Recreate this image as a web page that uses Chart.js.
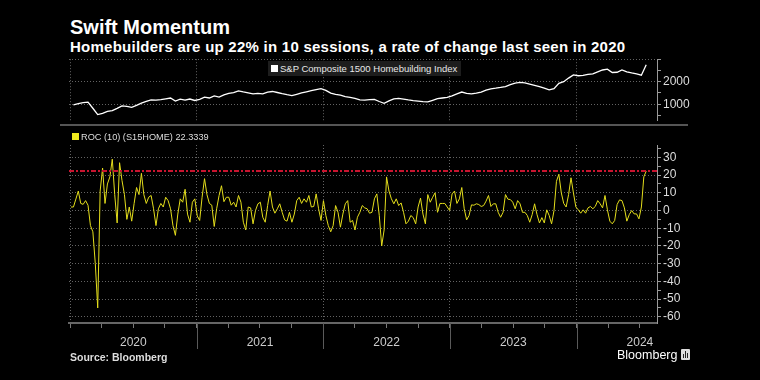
<!DOCTYPE html>
<html>
<head>
<meta charset="utf-8">
<script src="https://cdn.jsdelivr.net/npm/chart.js@4.4.1/dist/chart.umd.min.js"></script>
<style>
html,body{margin:0;padding:0;background:#000;}
#wrap{position:relative;width:760px;height:380px;background:#000;overflow:hidden;font-family:"Liberation Sans",Arial,sans-serif;color:#fff;}
#title{position:absolute;left:70px;top:16px;font-size:20px;font-weight:bold;line-height:22px;white-space:nowrap;}
#subtitle{position:absolute;left:70px;top:39px;font-size:15px;letter-spacing:0.25px;font-weight:bold;line-height:16px;white-space:nowrap;}
#cTop{position:absolute;left:0;top:50px;}
#cBot{position:absolute;left:0;top:128px;}
#sep{position:absolute;left:60px;top:124px;width:628px;height:2px;background:#555;}
#leg1{position:absolute;left:268px;top:61px;height:15px;padding:0 4px 0 3px;background:#1d1d1d;font-size:9.5px;line-height:15px;color:#e8e8e8;white-space:nowrap;}
#leg2{position:absolute;left:72px;top:130px;font-size:9.2px;line-height:14px;color:#ddd;white-space:nowrap;}
.sq{display:inline-block;width:7px;height:7px;margin-right:2px;vertical-align:0px;}
#source{position:absolute;left:70px;top:350px;font-size:10.5px;font-weight:bold;color:#ddd;line-height:14px;white-space:nowrap;}
#logo{position:absolute;left:617px;top:347px;font-size:12.5px;color:#fff;line-height:16px;white-space:nowrap;}
#logo .ic{display:inline-block;position:relative;width:9px;height:11px;background:#ddd;border-radius:1px;margin-left:4px;vertical-align:-1px;}
#logo .ic i{position:absolute;bottom:2px;width:1px;background:#222;}
</style>
</head>
<body>
<div id="wrap">
  <div id="title">Swift Momentum</div>
  <div id="subtitle">Homebuilders are up 22% in 10 sessions, a rate of change last seen in 2020</div>
  <canvas id="cTop" width="760" height="80"></canvas>
  <div id="sep"></div>
  <div id="leg1"><span class="sq" style="background:#fff"></span>S&amp;P Composite 1500 Homebuilding Index</div>
  <canvas id="cBot" width="760" height="240"></canvas>
  <div id="leg2"><span class="sq" style="background:#f0ea1e"></span><span id="leg2txt"></span></div>
  <div id="source">Source: Bloomberg</div>
  <div id="logo">Bloomberg<span class="ic"><i style="left:2px;height:4px"></i><i style="left:4px;height:7px"></i><i style="left:6px;height:5px"></i></span></div>
</div>
<script>
// ---- data ----
const yearLabels = ['2020', '2021', '2022', '2023', '2024'];
const rocStart = 2020.008;          // first weekly observation (decimal year)
const rocStepDays = 7;              // weekly observations
const rocValues = [
  2, 2, 6.5, 11, 4, 3.5, 5.6, 3, -8.5, -12,
  -30, -55, 11, 24, 4, 15, 19, 29, 9, -7,
  27, 17, 9, -5, 2, -6, 4, 13, 9, 21,
  9, 4, 7.5, 8.5, 1, -8.5, 1, 4, 2, 7.5,
  5.6, 1, -8.5, -14, -2, 6.6, 4.7, 12, -2, -6.6,
  4.7, 6.6, -3, -5.6, 7.5, 18, 9, 4, 3, -9,
  1, 8.5, 14, 5, 7.5, 7.5, 3, 4.7, 2, 8.5,
  4.7, -6.6, -11, 2, 1.5, -7.5, 0, 3.8, 4.7, -3.8,
  -6.6, 2.8, 11, 2, -1.5, 1, 3.8, -1, -5.3, -6,
  -1, -6.6, -2, 5.6, 7.5, 4, 6.6, 4.7, 8.5, 2,
  2.3, 9.4, 1, -5.6, 5.6, -2.8, -8.5, -12, -8.5, 2.8,
  -1, -9.4, -2, 3.8, 5.6, -6.6, -5.6, -11, -3.8, -1,
  2.8, 1.5, 1, -1.5, -1, 6.6, 9.4, -2.8, -20, -11,
  19, 11, 6.6, 3.8, 6.6, 2.8, 4.3, -1, -7.5, -6,
  -2.8, -4, -7.5, 2, 7, -2, -7.5, 9, 4.7, 7.5,
  10, -1, 4, 4, 4, 2, 0, 9.4, 11, 4,
  6.6, 13, 1, -5.3, -2.8, 3.2, 3, 3.8, 3.4, 2.3,
  2.8, 5.3, 8.5, 2.3, 3.8, 3.8, -1, -3.8, -1, 9,
  6.4, 6.2, 4.7, 1, 5.6, 3.8, -1, -1, -2.8, -6.6,
  -2.3, 3.8, -2.3, -7, -4, -7, 0.4, -2.8, -7.5, 0,
  16.5, 20.5, 10, 4, 2, 9, 18.5, 10, 2, 0.4,
  -1.5, 0.4, -1.5, 1.5, 2.3, 1, 2.3, 5.6, 3.8, 1.5,
  8.5, 0.4, -6, -7.5, -5.6, 3.4, 6, 5.6, 1.5, -6,
  -2.3, 0, -1.9, -1.9, -4.7, 2, 19, 22.3339
];
const rocLast = 22.3339;
const idxStart = 2020.027;          // first fortnightly observation (decimal year)
const idxStepDays = 14;
const idxValues = [
  975, 1030, 1070, 1090, 820, 540, 590, 677, 719, 816,
  925, 900, 860, 945, 1050, 1125, 1195, 1180, 1200, 1240,
  1275, 1140, 1225, 1180, 1230, 1165, 1215, 1310, 1275, 1370,
  1316, 1414, 1483, 1511, 1590, 1545, 1505, 1455, 1480, 1460,
  1540, 1565, 1520, 1470, 1425, 1385, 1440, 1500, 1550, 1600,
  1650, 1690, 1615, 1490, 1440, 1400, 1340, 1305, 1260, 1190,
  1185, 1205, 1215, 1120, 1040, 1150, 1240, 1255, 1225, 1190,
  1160, 1140, 1110, 1100, 1170, 1245, 1275, 1305, 1370, 1460,
  1540, 1485, 1460, 1490, 1540, 1622, 1680, 1710, 1745, 1785,
  1870, 1940, 1970, 1950, 1895, 1840, 1780, 1710, 1640, 1690,
  1930, 2000, 2160, 2300, 2265, 2280, 2325, 2350, 2440, 2520,
  2560, 2410, 2420, 2525, 2440, 2390, 2350, 2290, 2750
];
const idxTicks = [500, 1000, 1500, 2000, 2500, 3000];
const rocTicks = [-60, -55, -50, -45, -40, -35, -30, -25, -20, -15, -10, -5, 0, 5, 10, 15, 20, 25, 30, 35];

// ---- axis ranges ----
const xMin = 2019.992, xMax = 2024.635;
const yTopMin = 262, yTopMax = 3000;
const yBotMin = -63.5, yBotMax = 37;

const DAY = 1 / 365.25;
const rocPoints = rocValues.map((v, i) => ({x: rocStart + i * rocStepDays * DAY, y: v}));
const idxPoints = idxValues.map((v, i) => ({x: idxStart + i * idxStepDays * DAY, y: v}));
const years = yearLabels.map(Number);
const quarterTicks = [];
years.forEach(y => [0, 0.25, 0.5, 0.75].forEach(q => { const v = y + q; if (v >= xMin && v <= xMax) quarterTicks.push(v); }));

document.getElementById('leg2txt').textContent = 'ROC (10) (S15HOME) ' + rocLast.toFixed(4);

const FONT = '"Liberation Sans", Arial, sans-serif';
const GRID = '#636363';
const AXIS = '#9a9a9a';

// top panel
new Chart(document.getElementById('cTop'), {
  type: 'line',
  data: {datasets: [{data: idxPoints, borderColor: '#ffffff', borderWidth: 1.3, pointRadius: 0, tension: 0}]},
  options: {
    responsive: false, animation: false, events: [],
    layout: {padding: {left: 69, right: 0, top: 8, bottom: 6}},
    plugins: {legend: {display: false}, tooltip: {enabled: false}},
    scales: {
      x: {
        type: 'linear', min: xMin, max: xMax,
        afterBuildTicks: s => { s.ticks = years.map(v => ({value: v})); },
        ticks: {display: false, autoSkip: false},
        grid: {color: GRID, drawTicks: false, tickLength: 0},
        border: {display: false, dash: [1, 2]},
        afterFit: s => { s.height = 0; }
      },
      y: {
        position: 'right', min: yTopMin, max: yTopMax,
        afterBuildTicks: s => { s.ticks = idxTicks.map(v => ({value: v})); },
        ticks: {
          autoSkip: false, color: '#dddddd', padding: 2, font: {family: FONT, size: 12},
          callback: v => (v % 1000 === 0 && v < 3000) ? String(v) : ''
        },
        grid: {
          color: c => (c.tick && c.tick.value % 1000 === 0) ? GRID : 'rgba(0,0,0,0)',
          tickColor: AXIS, tickLength: 4
        },
        border: {display: true, color: AXIS, width: 1, dash: [1, 2]},
        afterFit: s => { s.width = 103; }
      }
    }
  }
});

// bottom panel
const yearDividers = {
  id: 'yearDividers',
  afterDraw(chart) {
    const {ctx, chartArea, scales} = chart;
    ctx.save();
    ctx.strokeStyle = '#5a5a5a';
    ctx.lineWidth = 1;
    years.slice(1).forEach(y => {
      const px = Math.round(scales.x.getPixelForValue(y)) + 0.5;
      ctx.beginPath();
      ctx.moveTo(px, chartArea.bottom);
      ctx.lineTo(px, chartArea.bottom + 26);
      ctx.stroke();
    });
    ctx.restore();
  }
};

new Chart(document.getElementById('cBot'), {
  type: 'line',
  data: {datasets: [
    {data: rocPoints, borderColor: '#e4de1c', borderWidth: 1, pointRadius: 0, tension: 0, order: 1},
    {data: [{x: xMin, y: rocLast}, {x: xMax, y: rocLast}], borderColor: '#c8142f', borderWidth: 2, borderDash: [5, 2, 2, 2], pointRadius: 0, order: 0}
  ]},
  options: {
    responsive: false, animation: false, events: [],
    layout: {padding: {left: 69, right: 0, top: 17, bottom: 0}},
    plugins: {legend: {display: false}, tooltip: {enabled: false}},
    scales: {
      x: {
        type: 'linear', min: xMin, max: xMax,
        afterBuildTicks: s => { s.ticks = quarterTicks.map(v => ({value: v})); },
        ticks: {
          color: '#cccccc', padding: 7, autoSkip: false, maxRotation: 0, font: {family: FONT, size: 12},
          callback: v => (Math.abs(v - Math.floor(v) - 0.5) < 1e-6) ? yearLabels[years.indexOf(Math.floor(v))] : ''
        },
        grid: {
          color: c => (c.tick && Number.isInteger(c.tick.value)) ? GRID : 'rgba(0,0,0,0)',
          tickColor: '#777', tickLength: 5
        },
        border: {display: true, color: '#666', width: 2, dash: [1, 2]},
        afterFit: s => { s.height = 45; }
      },
      y: {
        position: 'right', min: yBotMin, max: yBotMax,
        afterBuildTicks: s => { s.ticks = rocTicks.map(v => ({value: v})); },
        ticks: {
          autoSkip: false, color: '#dddddd', padding: 2, font: {family: FONT, size: 12},
          callback: v => (v % 10 === 0) ? String(v) : ''
        },
        grid: {
          color: c => (c.tick && c.tick.value % 10 === 0) ? GRID : 'rgba(0,0,0,0)',
          tickColor: AXIS, tickLength: 4
        },
        border: {display: true, color: AXIS, width: 1, dash: [1, 2]},
        afterFit: s => { s.width = 103; }
      }
    }
  },
  plugins: [yearDividers]
});
</script>
</body>
</html>
